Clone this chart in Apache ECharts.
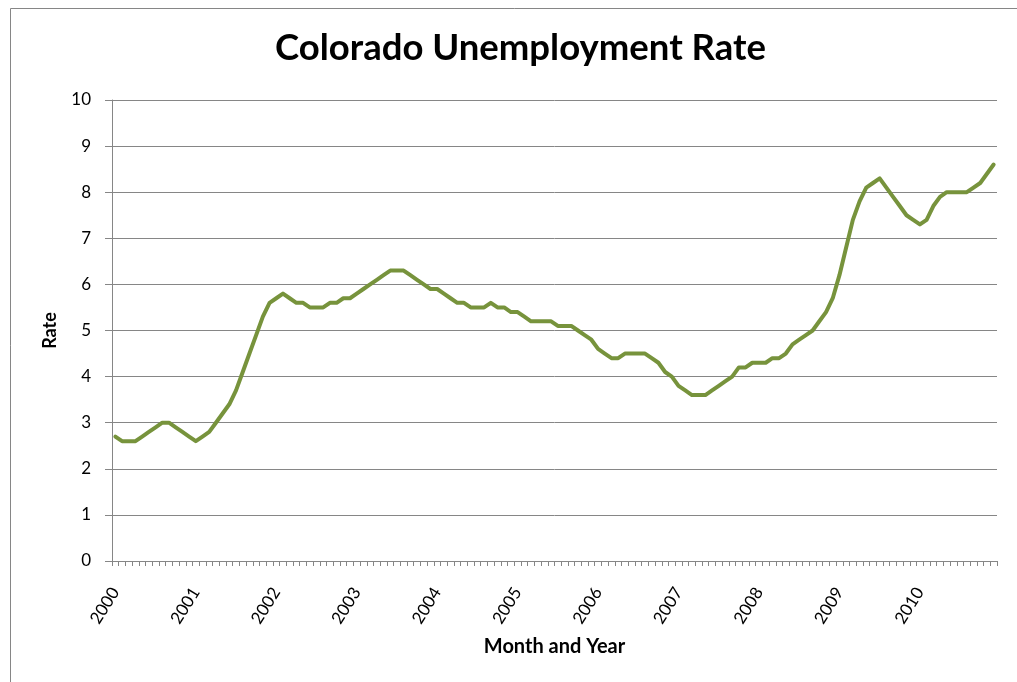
<!DOCTYPE html>
<html>
<head>
<meta charset="utf-8">
<script src="https://cdn.jsdelivr.net/npm/echarts@6/dist/echarts.min.js"></script>
<style>
html,body{margin:0;padding:0;background:#fff;}
#c{width:1017px;height:682px;}
</style>
</head>
<body>
<div id="c"></div>
<script>
var years = ['2000','2001','2002','2003','2004','2005','2006','2007','2008','2009','2010'];
var rate2000 = [2.7, 2.6, 2.6, 2.6, 2.7, 2.8, 2.9, 3.0, 3.0, 2.9, 2.8, 2.7];
var rate2001 = [2.6, 2.7, 2.8, 3.0, 3.2, 3.4, 3.7, 4.1, 4.5, 4.9, 5.3, 5.6];
var rate2002 = [5.7, 5.8, 5.7, 5.6, 5.6, 5.5, 5.5, 5.5, 5.6, 5.6, 5.7, 5.7];
var rate2003 = [5.8, 5.9, 6.0, 6.1, 6.2, 6.3, 6.3, 6.3, 6.2, 6.1, 6.0, 5.9];
var rate2004 = [5.9, 5.8, 5.7, 5.6, 5.6, 5.5, 5.5, 5.5, 5.6, 5.5, 5.5, 5.4];
var rate2005 = [5.4, 5.3, 5.2, 5.2, 5.2, 5.2, 5.1, 5.1, 5.1, 5.0, 4.9, 4.8];
var rate2006 = [4.6, 4.5, 4.4, 4.4, 4.5, 4.5, 4.5, 4.5, 4.4, 4.3, 4.1, 4.0];
var rate2007 = [3.8, 3.7, 3.6, 3.6, 3.6, 3.7, 3.8, 3.9, 4.0, 4.2, 4.2, 4.3];
var rate2008 = [4.3, 4.3, 4.4, 4.4, 4.5, 4.7, 4.8, 4.9, 5.0, 5.2, 5.4, 5.7];
var rate2009 = [6.2, 6.8, 7.4, 7.8, 8.1, 8.2, 8.3, 8.1, 7.9, 7.7, 7.5, 7.4];
var rate2010 = [7.3, 7.4, 7.7, 7.9, 8.0, 8.0, 8.0, 8.0, 8.1, 8.2, 8.4, 8.6];
var yTicks = [0,1,2,3,4,5,6,7,8,9,10];

var byYear = [rate2000, rate2001, rate2002, rate2003, rate2004, rate2005, rate2006, rate2007, rate2008, rate2009, rate2010];
var categories = [];
var values = [];
years.forEach(function (y, yi) {
  byYear[yi].forEach(function (v, m) {
    categories.push(y + '-' + (m < 9 ? '0' : '') + (m + 1));
    values.push(v);
  });
});

var FONT = 'Lato, "Open Sans", "DejaVu Sans", sans-serif';
var GRAY = '#868686';

var chart = echarts.init(document.getElementById('c'), null, {renderer: 'canvas'});
chart.setOption({
  animation: false,
  backgroundColor: '#ffffff',
  graphic: [{
    type: 'rect',
    shape: {x: 10.5, y: 8.5, width: 1200, height: 900},
    style: {fill: 'none', stroke: GRAY, lineWidth: 1},
    silent: true
  }],
  title: {
    text: 'Colorado Unemployment Rate',
    left: 270,
    top: 25,
    textStyle: {fontFamily: FONT, fontSize: 36.5, fontWeight: 'bold', color: '#000'}
  },
  grid: {left: 112, right: 20, top: 100, bottom: 121, containLabel: false},
  xAxis: {
    type: 'category',
    data: categories,
    boundaryGap: true,
    name: 'Month and Year',
    nameLocation: 'middle',
    nameGap: 76,
    nameTextStyle: {fontFamily: FONT, fontSize: 20, fontWeight: 'bold', color: '#000'},
    axisLine: {show: true, lineStyle: {color: GRAY, width: 1}},
    axisTick: {show: true, interval: 0, alignWithLabel: false, length: 5, lineStyle: {color: GRAY}},
    axisLabel: {
      interval: function (idx) { return idx % 12 === 0; },
      formatter: function (v) { return v.slice(0, 4); },
      rotate: 58,
      margin: 28,
      fontFamily: FONT,
      fontSize: 17,
      color: '#000'
    },
    splitLine: {show: false}
  },
  yAxis: {
    type: 'value',
    min: yTicks[0],
    max: yTicks[yTicks.length - 1],
    interval: 1,
    name: 'Rate',
    nameLocation: 'middle',
    nameGap: 53,
    nameRotate: 90,
    nameTextStyle: {fontFamily: FONT, fontSize: 18, fontWeight: 'bold', color: '#000'},
    axisLine: {show: true, lineStyle: {color: GRAY, width: 1}},
    axisTick: {show: true, length: 7, lineStyle: {color: GRAY}},
    axisLabel: {fontFamily: FONT, fontSize: 17, color: '#000', margin: 21},
    splitLine: {show: true, lineStyle: {color: GRAY, width: 1}}
  },
  series: [{
    type: 'line',
    data: values,
    symbol: 'none',
    smooth: false,
    lineStyle: {color: '#77933C', width: 4, join: 'round', cap: 'round'},
    itemStyle: {color: '#77933C'}
  }]
});
</script>
</body>
</html>
